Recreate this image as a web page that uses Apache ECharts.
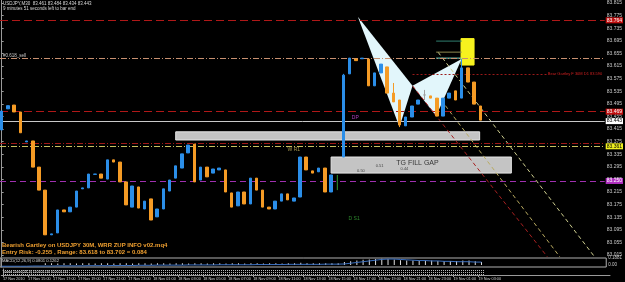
<!DOCTYPE html>
<html>
<head>
<meta charset="utf-8">
<title>USDJPY,M30 Bearish Gartley</title>
<script src="https://cdn.jsdelivr.net/npm/echarts@6.0.0/dist/echarts.min.js"></script>
<style>
  html, body { margin: 0; padding: 0; background: #000; }
  #main { width: 625px; height: 282px; }
</style>
</head>
<body>
<div id="main"></div>
<script type="text/javascript">
// 30 minute bars, bar 0 = 17 Nov 2010 13:00 (bar 54 has no body)
var opens = [
  83.412, 83.479, 83.491, 83.469, 83.374, 83.377, 83.294, 83.221, 83.079, 83.085,
  83.158, 83.152, 83.167, 83.225, 83.228, 83.271, 83.272, 83.256, 83.317, 83.310,
  83.247, 83.167, 83.231, 83.161, 83.193, 83.136, 83.161, 83.218, 83.259, 83.291,
  83.339, 83.367, 83.253, 83.294, 83.275, 83.285, 83.285, 83.212, 83.171, 83.215,
  83.177, 83.259, 83.221, 83.167, 83.161, 83.186, 83.209, 83.186, 83.199, 83.326,
  83.282, 83.279, 83.291, 83.215, null, 83.326, 83.590, 83.637, 83.638, 83.637,
  83.552, 83.593, 83.612, 83.529, 83.507, 83.425, 83.453, 83.494, 83.523, 83.520,
  83.513, 83.456, 83.513, 83.536, 83.513, 83.609, 83.564, 83.488
];
var closes = [
  83.472, 83.489, 83.469, 83.403, 83.377, 83.294, 83.221, 83.079, 83.082, 83.158,
  83.152, 83.167, 83.218, 83.228, 83.272, 83.272, 83.259, 83.317, 83.310, 83.247,
  83.174, 83.234, 83.164, 83.186, 83.126, 83.161, 83.225, 83.253, 83.298, 83.336,
  83.364, 83.247, 83.294, 83.263, 83.288, 83.291, 83.215, 83.167, 83.215, 83.177,
  83.259, 83.221, 83.167, 83.161, 83.186, 83.209, 83.190, 83.196, 83.326, 83.285,
  83.275, 83.291, 83.215, 83.269, null, 83.586, 83.640, 83.632, 83.640, 83.552,
  83.593, 83.621, 83.529, 83.501, 83.428, 83.453, 83.488, 83.507, 83.523, 83.513,
  83.456, 83.513, 83.529, 83.507, 83.609, 83.564, 83.494, 83.443
];
// visible wicks
var wickHigh = {55: 83.590, 63: 83.561, 68: 83.539, 74: 83.637};
var wickLow = {64: 83.421, 68: 83.507};

var priceTicks = [83.015, 83.055, 83.095, 83.135, 83.175, 83.215, 83.255, 83.295, 83.335, 83.375, 83.415,
  83.455, 83.495, 83.535, 83.575, 83.615, 83.655, 83.695, 83.735, 83.775, 83.815];
var timeTicks = [0, 4, 8, 12, 16, 20, 24, 28, 32, 36, 40, 44, 48, 52, 56, 60, 64, 68, 72, 76];
var timeLabels = ['17 Nov 2010', '17 Nov 15:00', '17 Nov 17:00', '17 Nov 19:00', '17 Nov 21:00', '17 Nov 23:00',
  '18 Nov 01:00', '18 Nov 03:00', '18 Nov 05:00', '18 Nov 07:00', '18 Nov 09:00', '18 Nov 11:00',
  '18 Nov 13:00', '18 Nov 15:00', '18 Nov 17:00', '18 Nov 19:00', '18 Nov 21:00', '18 Nov 23:00',
  '19 Nov 01:00', '19 Nov 03:00'];

// horizontal levels across the whole chart
var levelPrices = [83.764, 83.640, 83.469, 83.443, 83.371, 83.361, 83.250];

// gartley X A B C D
var gartleyBars = [57.3, 64.0, 66.1, 69.9, 74.0];
var gartleyPrices = [83.771, 83.421, 83.552, 83.456, 83.637];

// rectangles: upper zone, gap fill zone, entry zone
var zoneBars = [[28.0, 76.9], [53.0, 82.0], [73.9, 76.0]];
var zonePrices = [[83.406, 83.380], [83.326, 83.275], [83.702, 83.618]];

// projection lines from the pattern
var projBars = [[66.1, 87.8], [70.7, 89.8], [70.2, 95.4]];
var projPrices = [[83.552, 83.009], [83.507, 83.009], [83.659, 83.009]];

// short target lines left of the entry zone
var targetBars = [69.9, 74.0];
var targetPrices = [83.694, 83.659, 83.640];

// D level line with its label
var dLevelBars = [66.1, 87.7];
var dLevelPrice = 83.590;

var markerBar = 54;
var markerPrices = [83.269, 83.221];

var noteText = ['DP', 'W R1', 'D S1', 'TG FILL GAP', '0.51', '0.44', '0.50'];
var noteBars = [56.9, 47.0, 56.7, 66.9, 60.8, 64.8, 57.8];
var notePrices = [83.451, 83.351, 83.132, 83.307, 83.297, 83.288, 83.282];

// MACD sub window
var macdHist = [
  0, 0, 0, 0, 0, 0, 0,
  0.05, 0.05, 0.04, 0.05, 0.05, 0.04, 0.05, 0.05, 0.04, 0.05, 0.05, 0.04, 0.05,
  0.05, 0.04, 0.05, 0.05, 0.04, 0.05, 0.05, 0.04, 0.05, 0.05, 0.04, 0.05, 0.05, 0.04, 0.05, 0.05, 0.04, 0.05, 0.05, 0.04,
  0.05, 0.05, 0.04, 0.05, 0.05, 0.04, 0.05, 0.05, 0.06, 0.05, 0.05, 0.05, 0.05, 0.05, 0.05, 0.08,
  0.10, 0.12, 0.14, 0.15, 0.16, 0.17, 0.16, 0.15, 0.13, 0.12, 0.12, 0.12, 0.12, 0.12, 0.11, 0.11, 0.11, 0.11, 0.12, 0.12, 0.10, 0.08
];
var macdSignal = [
  -0.03, -0.03, -0.03, -0.03, -0.03, -0.025, -0.025, -0.025, -0.025, -0.02, -0.02, -0.02, -0.02, -0.02, -0.015, -0.015, -0.015, -0.015, -0.01, -0.01,
  -0.01, -0.01, -0.005, -0.005, -0.005, 0, 0, 0, 0, 0, 0.005, 0.005, 0.005, 0.005, 0.005, 0.01, 0.01, 0.01, 0.01, 0.01,
  0.01, 0.015, 0.015, 0.015, 0.015, 0.015, 0.02, 0.02, 0.02, 0.02, 0.02, 0.02, 0.025, 0.025, 0.025, 0.03,
  0.05, 0.07, 0.09, 0.11, 0.13, 0.15, 0.16, 0.16, 0.15, 0.14, 0.13, 0.12, 0.12, 0.11, 0.11, 0.10, 0.10, 0.09, 0.09, 0.09, 0.08, 0.08
];
var dotLevels = [0.75, 0.42, 0.08];

var FONT = '"Liberation Sans", Arial, sans-serif';
var xMin = -0.271, xMax = 97.02;

var candles = [];
for (var i = 0; i < opens.length; i++) {
  if (opens[i] == null) continue;
  var lo = Math.min(opens[i], closes[i]);
  var hi = Math.max(opens[i], closes[i]);
  if (wickLow[i] != null) lo = wickLow[i];
  if (wickHigh[i] != null) hi = wickHigh[i];
  candles.push([i, opens[i], closes[i], lo, hi]);
}

var levelStyles = [
  {color: '#b01818', type: [8, 4]},
  {color: '#c89070', type: [6, 2, 1, 2]},
  {color: '#b01818', type: [8, 4]},
  {color: '#c8c8c8', type: 'solid'},
  {color: '#a01818', type: [6, 2, 1, 2]},
  {color: '#c8c060', type: [6, 2, 1, 2]},
  {color: '#a030b0', type: [6, 4]}
];
var levelTags = [
  {bg: '#c01010', fg: '#ffffff'}, null,
  {bg: '#c01010', fg: '#ffffff'},
  {bg: '#ffffff', fg: '#000000'}, null,
  {bg: '#f0f020', fg: '#000000'},
  {bg: '#b030c0', fg: '#ffffff'}
];

var levelLines = levelPrices.map(function (p, i) {
  var tag = levelTags[i];
  return {
    yAxis: p,
    lineStyle: {color: levelStyles[i].color, type: levelStyles[i].type, width: 1},
    label: tag ? {
      show: true, position: 'end', distance: 1, formatter: p.toFixed(3),
      backgroundColor: tag.bg, color: tag.fg, fontSize: 5, fontFamily: FONT, padding: [1, 1, 0, 1]
    } : {show: false}
  };
});

var zoneFill = ['#c4c4c4', '#c4c4c4', '#f7f21e'];
var zoneStroke = ['#e6e6e6', '#e6e6e6', '#f7f21e'];
var projColors = ['#a82020', '#b8aa60', '#d0d090'];
var targetColors = ['#2f7f6f', '#8f8a50', '#70e0d0'];
var noteColors = ['#b040c0', '#a89850', '#2e8b2e', '#353535', '#444444', '#444444', '#444444'];
var noteSizes = [5, 5, 5, 7, 4, 4, 4];

var series = [];

series.push({
  type: 'custom', xAxisIndex: 0, yAxisIndex: 0, z: 1, silent: true,
  data: zoneBars.map(function (b, i) { return [b[0], zonePrices[i][0]]; }),
  renderItem: function (params, api) {
    var i = params.dataIndex;
    var p0 = api.coord([zoneBars[i][0], zonePrices[i][0]]);
    var p1 = api.coord([zoneBars[i][1], zonePrices[i][1]]);
    return {
      type: 'rect',
      shape: {x: p0[0], y: p0[1], width: p1[0] - p0[0], height: p1[1] - p0[1]},
      style: {fill: zoneFill[i], stroke: zoneStroke[i], lineWidth: 1}
    };
  }
});

series.push({
  type: 'custom', xAxisIndex: 0, yAxisIndex: 0, z: 2, silent: true,
  data: [[gartleyBars[0], gartleyPrices[0]], [gartleyBars[2], gartleyPrices[2]]],
  renderItem: function (params, api) {
    var idx = params.dataIndex === 0 ? [0, 1, 2] : [2, 3, 4];
    var pts = idx.map(function (k) { return api.coord([gartleyBars[k], gartleyPrices[k]]); });
    return {type: 'polygon', shape: {points: pts}, style: {fill: '#e2f6fb'}};
  }
});

series.push({
  type: 'line', xAxisIndex: 0, yAxisIndex: 0, z: 3, data: [], silent: true,
  markLine: {symbol: ['none', 'none'], animation: false, data: levelLines}
});

series.push({
  type: 'line', xAxisIndex: 0, yAxisIndex: 0, z: 3, data: [], silent: true,
  markLine: {
    symbol: ['none', 'none'], animation: false,
    data: [[
      {coord: [dLevelBars[0], dLevelPrice], lineStyle: {color: '#9a1a1a', type: [2, 2], width: 1}},
      {coord: [dLevelBars[1], dLevelPrice]}
    ]],
    label: {
      show: true, position: 'end', distance: 1, color: '#d02020', fontSize: 4, fontFamily: FONT,
      formatter: 'Bear Gartley F 30M D1 ' + dLevelPrice.toFixed(3)
    }
  }
});

projBars.forEach(function (b, i) {
  series.push({
    type: 'line', xAxisIndex: 0, yAxisIndex: 0, z: 3, symbol: 'none', silent: true,
    data: [[b[0], projPrices[i][0]], [b[1], projPrices[i][1]]],
    lineStyle: {color: projColors[i], width: 1, type: [4, 3]}
  });
});

targetPrices.forEach(function (p, i) {
  series.push({
    type: 'line', xAxisIndex: 0, yAxisIndex: 0, z: 3, symbol: 'none', silent: true,
    data: [[targetBars[0], p], [targetBars[1], p]],
    lineStyle: {color: targetColors[i], width: 1}
  });
});

series.push({
  type: 'line', xAxisIndex: 0, yAxisIndex: 0, z: 3, symbol: 'none', silent: true,
  data: [[markerBar, markerPrices[0]], [markerBar, markerPrices[1]]],
  lineStyle: {color: '#2e9a2e', width: 1}
});

series.push({
  type: 'candlestick', xAxisIndex: 0, yAxisIndex: 0, z: 5,
  encode: {x: 0, y: [1, 2, 3, 4]},
  barWidth: 3,
  data: candles,
  itemStyle: {
    color: '#2b8ee8', color0: '#f59b25',
    borderColor: '#2b8ee8', borderColor0: '#f59b25', borderColorDoji: '#a0a0a0',
    borderWidth: 1
  }
});

series.push({
  type: 'custom', xAxisIndex: 0, yAxisIndex: 0, z: 6, silent: true,
  data: noteBars.map(function (b, i) { return [b, notePrices[i]]; }),
  renderItem: function (params, api) {
    var i = params.dataIndex;
    var pt = api.coord([noteBars[i], notePrices[i]]);
    return {
      type: 'text', x: pt[0], y: pt[1],
      style: {text: noteText[i], fill: noteColors[i], fontSize: noteSizes[i], fontFamily: FONT,
        align: 'center', verticalAlign: 'middle'}
    };
  }
});

series.push({
  type: 'bar', xAxisIndex: 1, yAxisIndex: 1, barWidth: 1, silent: true,
  data: macdHist.map(function (v, i) { return [i, v]; }),
  itemStyle: {color: '#e0e0e0'}
});
series.push({
  type: 'line', xAxisIndex: 1, yAxisIndex: 1, symbol: 'none', silent: true,
  data: macdSignal.map(function (v, i) { return [i, v]; }),
  lineStyle: {color: '#3a6fc0', width: 1}
});

dotLevels.forEach(function (lv) {
  series.push({
    type: 'line', xAxisIndex: 2, yAxisIndex: 2, symbol: 'none', silent: true,
    data: [[0, lv], [opens.length - 1, lv]],
    lineStyle: {color: '#b8b8b8', width: 1, type: [1, 1]}
  });
});

var chart = echarts.init(document.getElementById('main'));
chart.setOption({
  backgroundColor: '#000000',
  animation: false,
  grid: [
    {left: 0, right: 15, top: 0, height: 257},
    {left: 0, right: 15, top: 258, height: 9, show: true, borderColor: '#b0b0b0', borderWidth: 1},
    {left: 0, right: 15, top: 269, height: 6}
  ],
  xAxis: [
    {gridIndex: 0, type: 'value', min: xMin, max: xMax, show: false},
    {gridIndex: 1, type: 'value', min: xMin, max: xMax, show: false},
    {
      gridIndex: 2, type: 'value', min: xMin, max: xMax, position: 'bottom',
      axisLine: {show: true, lineStyle: {color: '#9a9a9a'}},
      axisTick: {show: true, customValues: timeTicks, length: 2, lineStyle: {color: '#9a9a9a'}},
      axisLabel: {
        customValues: timeTicks, fontSize: 3.8, color: '#d0d0d0', margin: 2, align: 'left', fontFamily: FONT,
        formatter: function (v) { return timeLabels[timeTicks.indexOf(v)] || ''; }
      },
      splitLine: {show: false}
    }
  ],
  yAxis: [
    {
      gridIndex: 0, type: 'value', position: 'right', min: 83.0086, max: 83.8245,
      axisLine: {show: true, lineStyle: {color: '#9a9a9a'}},
      axisTick: {show: true, customValues: priceTicks, length: 2, lineStyle: {color: '#9a9a9a'}},
      axisLabel: {
        customValues: priceTicks, fontSize: 5, color: '#c8c8c8', margin: 2, fontFamily: FONT,
        formatter: function (v) { return v.toFixed(3); }
      },
      splitLine: {show: false}
    },
    {
      gridIndex: 1, type: 'value', position: 'right', min: -0.05, max: 0.1881,
      axisLine: {show: true, lineStyle: {color: '#9a9a9a'}},
      axisTick: {show: false},
      axisLabel: {
        customValues: [0.1881, 0], fontSize: 4.5, color: '#c8c8c8', margin: 2, fontFamily: FONT,
        formatter: function (v) { return v === 0 ? '0.00' : v.toFixed(4); }
      },
      splitLine: {show: false}
    },
    {
      gridIndex: 2, type: 'value', position: 'right', min: 0, max: 1,
      axisLine: {show: true, lineStyle: {color: '#9a9a9a'}},
      axisTick: {show: false}, axisLabel: {show: false}, splitLine: {show: false}
    }
  ],
  graphic: [
    {type: 'text', x: 3, y: 1, style: {text: 'USDJPY,M30  83.461 83.484 83.434 83.443', fill: '#d8d8d8', fontSize: 4.5, fontFamily: FONT}},
    {type: 'text', x: 3, y: 6.5, style: {text: '9 minutes 51 seconds left to bar end', fill: '#d8d8d8', fontSize: 4.5, fontFamily: FONT}},
    {type: 'text', x: 3, y: 53, style: {text: '#0.618_sell', fill: '#c8c8c8', fontSize: 4.5, fontFamily: FONT}},
    {type: 'text', x: 2, y: 242, style: {text: 'Bearish Gartley on USDJPY 30M, WRR ZUP INFO v02.mq4', fill: '#f0a030', fontSize: 6, fontWeight: 'bold', fontFamily: FONT}},
    {type: 'text', x: 2, y: 249.5, style: {text: 'Entry Risk: -0.255 , Range: 83.618 to 83.702 = 0.084', fill: '#f0a030', fontSize: 6, fontWeight: 'bold', fontFamily: FONT}},
    {type: 'text', x: 2, y: 259, style: {text: 'MACD(12,26,9) 0.0801 0.1262', fill: '#d8d8d8', fontSize: 4.2, fontFamily: FONT}},
    {type: 'text', x: 2, y: 269.5, style: {text: 'Trend Dots(14,3) 0.00 0.00 0.00 0.00', fill: '#d8d8d8', fontSize: 4, fontFamily: FONT}}
  ],
  series: series
});
</script>
</body>
</html>
